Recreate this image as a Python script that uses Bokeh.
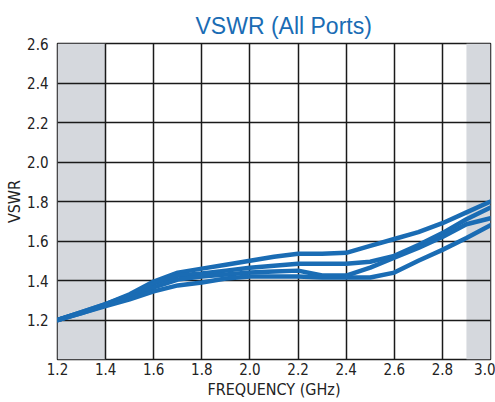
from bokeh.plotting import figure
from bokeh.models import FixedTicker, Range1d, PrintfTickFormatter
from bokeh.embed import file_html
from bokeh.resources import INLINE

freq = [1.2, 1.3, 1.4, 1.5, 1.6, 1.7, 1.8, 1.9, 2.0, 2.1, 2.2, 2.3, 2.4, 2.5, 2.6, 2.7, 2.8, 2.9, 3.0]
port_a = [1.20, 1.24, 1.28, 1.33, 1.395, 1.44, 1.46, 1.48, 1.50, 1.52, 1.535, 1.535, 1.54, 1.575, 1.61, 1.645, 1.69, 1.745, 1.80]
port_b = [1.20, 1.24, 1.28, 1.325, 1.385, 1.425, 1.435, 1.45, 1.465, 1.475, 1.485, 1.485, 1.485, 1.495, 1.525, 1.58, 1.64, 1.71, 1.77]
port_c = [1.20, 1.235, 1.275, 1.315, 1.365, 1.405, 1.42, 1.43, 1.44, 1.445, 1.45, 1.425, 1.425, 1.465, 1.515, 1.565, 1.62, 1.685, 1.715]
port_d = [1.20, 1.235, 1.27, 1.305, 1.345, 1.375, 1.39, 1.41, 1.42, 1.42, 1.42, 1.415, 1.415, 1.415, 1.44, 1.50, 1.555, 1.615, 1.68]

x_ticks = [1.2, 1.4, 1.6, 1.8, 2.0, 2.2, 2.4, 2.6, 2.8, 3.0]
y_ticks = [1.2, 1.4, 1.6, 1.8, 2.0, 2.2, 2.4, 2.6]
band_left = [1.2, 2.9]
band_right = [1.4, 3.0]
band_bottom = [1.0, 1.0]
band_top = [2.6, 2.6]

BLUE = "#1a6cb4"
FONT = "DejaVu Sans Condensed"

p = figure(width=495, height=402, output_backend="svg", toolbar_location=None,
           x_range=Range1d(1.2, 3.0), y_range=Range1d(1.0, 2.6),
           min_border_left=57, min_border_right=5, min_border_top=43, min_border_bottom=43,
           min_border=0)

p.title.text = "VSWR (All Ports)"
p.title.align = "left"
p.title.offset = 138
p.title.text_color = BLUE
p.title.text_font = "Liberation Sans"
p.title.text_font_size = "23px"
p.title.text_font_style = "normal"

p.quad(left=band_left, right=band_right, bottom=band_bottom, top=band_top,
       fill_color="#d5d8dd", line_color=None, level="image")

for s in [port_a, port_b, port_c, port_d]:
    p.line(freq, s, line_color=BLUE, line_width=4.5, line_join="round", line_cap="round")

p.xaxis.ticker = FixedTicker(ticks=x_ticks)
p.yaxis.ticker = FixedTicker(ticks=y_ticks)
for ax in [p.xaxis[0], p.yaxis[0]]:
    ax.formatter = PrintfTickFormatter(format="%.1f")
    ax.major_tick_line_color = None
    ax.minor_tick_line_color = None
    ax.major_tick_out = 0
    ax.major_tick_in = 0
    ax.axis_line_color = None
    ax.major_label_text_font = FONT
    ax.major_label_text_font_size = "15px"
    ax.major_label_text_color = "#222222"
    ax.axis_label_text_font = FONT
    ax.axis_label_text_font_size = "16px"
    ax.axis_label_text_font_style = "normal"
    ax.axis_label_text_color = "#222222"
p.xaxis.axis_label = "FREQUENCY (GHz)"
p.yaxis.axis_label = "VSWR"
p.xaxis.major_label_standoff = 3
p.yaxis.major_label_standoff = 9
p.xaxis.axis_label_standoff = 2
p.yaxis.axis_label_standoff = 0

p.xgrid.ticker = FixedTicker(ticks=x_ticks)
p.ygrid.ticker = FixedTicker(ticks=y_ticks)
for g in [p.xgrid[0], p.ygrid[0]]:
    g.grid_line_color = "#1a1a1a"
    g.grid_line_width = 1.5
    g.grid_line_alpha = 1.0

p.outline_line_color = "#1a1a1a"
p.outline_line_width = 1.5
p.background_fill_color = "white"
p.border_fill_color = "white"

open("out.html", "w").write(file_html(p, INLINE))
